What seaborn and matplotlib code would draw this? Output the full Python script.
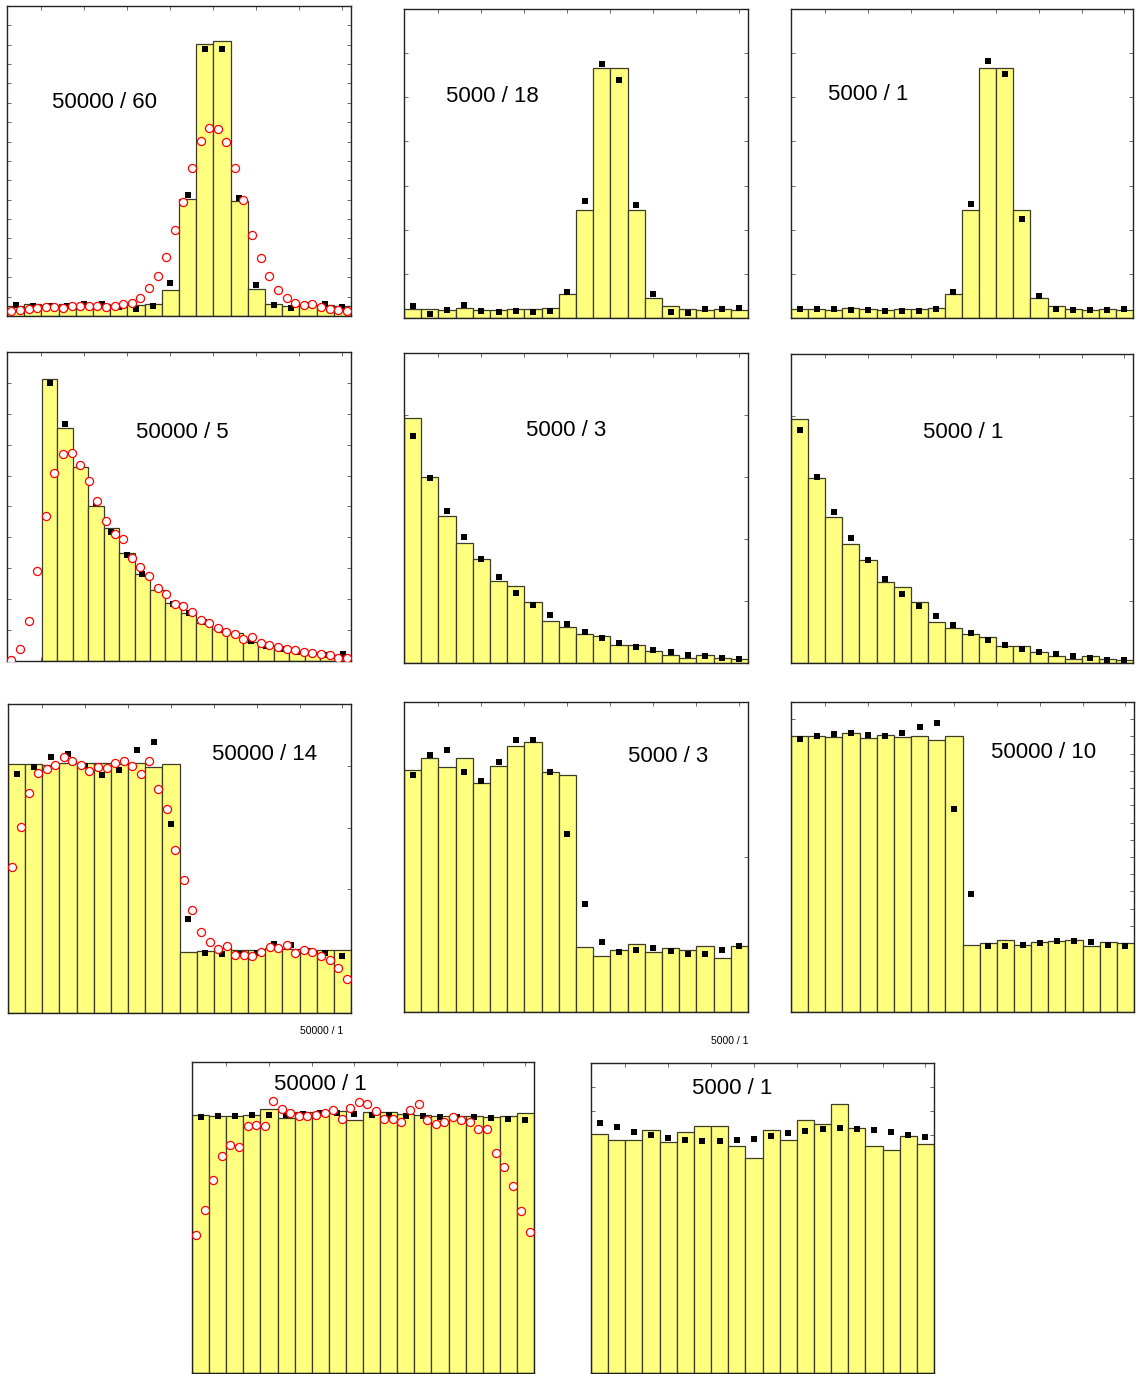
import numpy as np
import matplotlib
matplotlib.use("Agg")
import matplotlib.pyplot as plt
import seaborn as sns

W, H = 1141, 1374

# all heights are read off the picture as % of each panel's height
# bars = histogram, pts = black squares, fit = red open circles
gauss_50000_60_bars = [3.1, 3.8, 3.4, 3.8, 3.7, 3.8, 3.1, 3.4, 3.8, 8.3,
                       37.8, 87.8, 88.7, 37.1, 8.8, 3.8, 3.1, 3.4, 3.4, 3.1]
gauss_50000_60_pts = [3.4, 3.1, 3.1, 3.1, 4.0, 3.8, 2.9, 2.4, 3.1, 10.8,
                      39.1, 86.2, 86.2, 38.2, 10.1, 3.4, 2.7, 3.4, 3.8, 2.9]
gauss_50000_60_fit = [1.6, 1.8, 2.4, 2.6, 2.9, 2.9, 2.7, 3.1, 3.1, 3.1,
                      3.1, 2.9, 3.1, 3.8, 4.2, 5.8, 9.1, 12.9, 19.0, 27.6,
                      36.8, 47.7, 56.5, 60.6, 60.2, 56.1, 47.7, 37.4, 26.0, 18.8,
                      12.9, 8.5, 5.8, 4.2, 3.4, 3.8, 2.9, 2.4, 1.8, 1.6]

gauss_5000_18_bars = [2.9, 2.9, 2.7, 3.2, 2.7, 2.7, 2.9, 2.9, 3.2, 7.8,
                      34.8, 80.8, 80.8, 34.8, 6.5, 3.8, 2.9, 2.5, 2.9, 2.7]
gauss_5000_18_pts = [4.0, 1.3, 2.7, 4.3, 2.2, 1.9, 2.2, 1.9, 2.4, 8.3,
                     37.9, 82.1, 77.0, 36.6, 7.9, 1.9, 1.6, 3.0, 3.0, 3.2]

gauss_5000_1_bars = [2.9, 2.9, 2.7, 3.2, 2.9, 2.7, 2.9, 2.9, 3.2, 7.8,
                     34.8, 80.8, 80.8, 34.8, 6.5, 3.8, 2.9, 2.5, 2.9, 2.7]
gauss_5000_1_pts = [3.0, 3.0, 3.0, 2.7, 2.7, 2.4, 2.4, 2.4, 2.9, 8.4,
                    36.9, 83.3, 79.1, 32.1, 7.2, 2.9, 2.7, 2.7, 2.7, 2.9]

exp_50000_5_bars = [91.2, 75.4, 62.9, 50.2, 42.9, 35.0, 28.3, 23.1, 18.9, 15.4,
                    12.3, 10.2, 8.9, 6.2, 5.1, 4.0, 3.2, 2.4, 1.8, 1.3]
exp_50000_5_pts = [89.9, 76.6, 63.0, 51.2, 41.6, 34.3, 28.0, 23.5, 18.6, 15.6,
                   12.5, 10.0, 8.5, 6.5, 5.0, 4.0, 3.0, 2.4, 2.0, 2.4]
exp_50000_5_fit = [0.2, 4.0, 12.9, 29.2, 46.9, 60.8, 67.0, 67.2, 63.5, 58.1,
                   51.8, 45.3, 41.1, 39.4, 33.4, 30.5, 27.5, 23.5, 21.6, 18.4,
                   17.7, 15.7, 13.4, 12.3, 10.7, 9.4, 8.6, 7.2, 7.8, 5.8,
                   5.1, 4.5, 4.0, 3.5, 2.9, 2.6, 2.2, 1.8, 1.1, 1.1]

exp_5000_3_bars = [79.0, 60.0, 47.5, 38.7, 33.7, 26.5, 24.7, 19.7, 13.5, 11.6,
                   9.5, 8.6, 5.7, 5.7, 3.9, 2.5, 1.6, 2.7, 1.7, 1.4]
exp_5000_3_pts = [73.2, 59.7, 49.0, 40.6, 33.7, 27.7, 22.7, 18.8, 15.4, 12.5,
                  10.0, 8.1, 6.5, 5.2, 4.3, 3.4, 2.7, 2.3, 1.7, 1.4]

exp_5000_1_bars = [78.9, 59.8, 47.4, 38.5, 33.4, 26.2, 24.5, 19.6, 13.3, 11.3,
                   9.4, 8.4, 5.4, 5.4, 3.6, 2.2, 1.3, 2.4, 1.4, 1.1]
exp_5000_1_pts = [75.4, 60.3, 48.8, 40.4, 33.2, 27.2, 22.3, 18.3, 15.3, 12.2,
                  9.7, 7.5, 5.9, 4.5, 3.6, 2.9, 2.2, 1.6, 1.1, 0.9]

step_50000_14_bars = [80.5, 80.5, 80.3, 81.0, 80.8, 80.8, 80.6, 80.8, 79.5, 80.5,
                      19.7, 20.2, 21.0, 20.3, 20.5, 21.0, 20.8, 20.5, 20.5, 20.3]
step_50000_14_pts = [77.4, 79.7, 82.7, 83.8, 80.0, 77.0, 78.7, 85.1, 87.6, 61.2,
                     30.5, 19.4, 19.1, 19.0, 19.5, 22.4, 21.9, 20.0, 19.4, 18.6]
step_50000_14_fit = [47.1, 60.1, 71.1, 77.6, 78.9, 80.3, 83.0, 81.6, 80.3, 78.4,
                     79.7, 79.2, 80.8, 81.6, 80.0, 77.3, 81.4, 72.5, 65.9, 52.6,
                     42.9, 33.4, 26.1, 23.0, 20.8, 21.6, 18.9, 18.9, 18.6, 19.7,
                     21.2, 21.0, 21.9, 19.4, 20.3, 19.6, 18.3, 17.2, 14.5, 11.1]

step_5000_3_bars = [78.2, 81.9, 78.9, 81.9, 73.9, 79.2, 85.7, 87.0, 77.3, 76.5,
                    21.0, 18.2, 20.1, 21.9, 19.2, 20.6, 19.9, 21.2, 17.4, 21.4]
step_5000_3_pts = [76.5, 83.0, 84.4, 77.3, 74.6, 80.8, 87.6, 87.6, 77.3, 57.4,
                   34.9, 22.5, 19.4, 20.1, 20.6, 19.8, 18.7, 18.7, 20.1, 21.2]

step_50000_10_bars = [89.1, 89.1, 88.7, 90.0, 88.4, 89.5, 88.7, 89.1, 87.8, 89.1,
                      21.7, 22.3, 23.3, 21.7, 22.6, 23.0, 23.3, 21.2, 22.5, 22.3]
step_50000_10_pts = [88.2, 88.9, 89.7, 89.9, 89.2, 89.1, 89.9, 91.9, 93.2, 65.6,
                     38.2, 21.4, 21.4, 21.6, 22.3, 23.0, 23.0, 22.5, 21.6, 21.4]

flat_50000_1_bars = [83.0, 82.5, 82.7, 83.0, 85.0, 82.0, 83.8, 83.8, 84.4, 81.2,
                     83.8, 83.8, 83.4, 83.0, 82.5, 82.5, 82.5, 82.2, 82.7, 83.6]
flat_50000_1_pts = [82.2, 82.5, 82.7, 83.0, 83.1, 83.1, 83.4, 83.6, 83.6, 83.4,
                    83.1, 83.1, 82.7, 82.5, 82.3, 82.3, 82.2, 82.0, 81.8, 81.5]
flat_50000_1_fit = [44.5, 52.3, 61.9, 69.9, 73.4, 72.6, 79.5, 79.8, 79.5, 87.4,
                    84.9, 83.6, 82.7, 82.7, 83.1, 83.6, 84.5, 81.8, 85.2, 87.0,
                    86.6, 84.4, 81.7, 81.7, 80.6, 84.7, 86.6, 81.5, 80.2, 80.6,
                    82.2, 81.2, 80.7, 78.6, 78.5, 70.7, 66.2, 60.0, 52.0, 45.2]

flat_5000_1_bars = [77.1, 75.2, 75.2, 78.4, 74.5, 77.7, 79.6, 79.6, 73.3, 69.4,
                    78.4, 75.2, 81.7, 80.3, 86.8, 79.0, 73.3, 71.8, 76.6, 73.9]
flat_5000_1_pts = [80.6, 79.4, 77.8, 76.7, 75.9, 75.3, 74.8, 74.8, 75.1, 75.6,
                   76.3, 77.3, 78.2, 78.6, 79.0, 78.8, 78.4, 77.6, 76.9, 76.1]

# label, bars, pts, fit, box (px: left, top, right, bottom), label centre (px),
# y tick divisions, empty bins before the first bar
panels = [
    ("50000 / 60", gauss_50000_60_bars, gauss_50000_60_pts, gauss_50000_60_fit,
     (7, 6, 351, 316), (104, 103), 16, 0),
    ("5000 / 18", gauss_5000_18_bars, gauss_5000_18_pts, None,
     (404, 9, 748, 318), (492, 97), 7, 0),
    ("5000 / 1", gauss_5000_1_bars, gauss_5000_1_pts, None,
     (791, 9, 1133, 318), (868, 95), 7, 0),
    ("50000 / 5", exp_50000_5_bars, exp_50000_5_pts, exp_50000_5_fit,
     (7, 352, 351, 661), (182, 433), 10, 2.25),
    ("5000 / 3", exp_5000_3_bars, exp_5000_3_pts, None,
     (404, 353, 748, 663), (566, 430), 5, 0),
    ("5000 / 1", exp_5000_1_bars, exp_5000_1_pts, None,
     (791, 354, 1133, 663), (963, 432), 5, 0),
    ("50000 / 14", step_50000_14_bars, step_50000_14_pts, step_50000_14_fit,
     (8, 704, 351, 1013), (265, 755), 5, 0),
    ("5000 / 3", step_5000_3_bars, step_5000_3_pts, None,
     (404, 702, 748, 1012), (668, 757), 2, 0),
    ("50000 / 10", step_50000_10_bars, step_50000_10_pts, None,
     (791, 702, 1134, 1012), (1044, 752), 18, 0),
    ("50000 / 1", flat_50000_1_bars, flat_50000_1_pts, flat_50000_1_fit,
     (192, 1062, 534, 1373), (320, 1085), 3, 0),
    ("5000 / 1", flat_5000_1_bars, flat_5000_1_pts, None,
     (591, 1063, 934, 1373), (732, 1088), 13, 0),
]

small_notes = [("50000 / 1", (322, 1031)), ("5000 / 1", (730, 1041))]

YELLOW = "#ffff80"
EDGE = "#3c3c28"

sns.set_style("white")
plt.rcParams["font.family"] = ["Liberation Sans", "DejaVu Sans"]

fig = plt.figure(figsize=(W / 100, H / 100), dpi=100)


def draw_panel(ax, bars, pts, fit, lead, ydiv):
    centers = np.arange(len(bars))
    sns.barplot(x=centers, y=bars, native_scale=True, width=1.0, color=YELLOW,
                saturation=1, edgecolor=EDGE, linewidth=0.9, errorbar=None, ax=ax)
    x0, x1 = -0.5 - lead, len(bars) - 0.5
    sns.scatterplot(x=centers, y=pts, marker="s", s=15, color="black",
                    linewidth=0, ax=ax, zorder=3)
    if fit is not None:
        fx = x0 + (np.arange(len(fit)) + 0.5) * (x1 - x0) / len(fit)
        sns.scatterplot(x=fx, y=fit, marker="o", s=34, color="white",
                        edgecolor="#ff0000", linewidth=0.9, ax=ax, zorder=4)
    ax.set_xlim(x0, x1)
    ax.set_ylim(0, 100)
    ax.set_xticks(x0 + (x1 - x0) * (0.1 + 0.125 * np.arange(8)))
    ax.set_yticks(np.linspace(0, 100, ydiv + 1)[1:-1])
    ax.tick_params(direction="in", length=3, width=0.6, color="#555555",
                   top=True, right=True, bottom=True, left=True,
                   labelbottom=False, labelleft=False)
    ax.set_xlabel("")
    ax.set_ylabel("")
    for sp in ax.spines.values():
        sp.set_color("#222222")
        sp.set_linewidth(1.0)


for label, bars, pts, fit, box, lab_xy, ydiv, lead in panels:
    l, t, r, b = box
    ax = fig.add_axes([l / W, 1 - b / H, (r - l) / W, (b - t) / H])
    draw_panel(ax, bars, pts, fit, lead, ydiv)
    fig.text(lab_xy[0] / W, 1 - lab_xy[1] / H, label, ha="center", va="center",
             fontsize=16, color="black")

for note, (nx, ny) in small_notes:
    fig.text(nx / W, 1 - ny / H, note, ha="center", va="center", fontsize=7.5,
             color="black")

fig.savefig("out.png", dpi=100)
